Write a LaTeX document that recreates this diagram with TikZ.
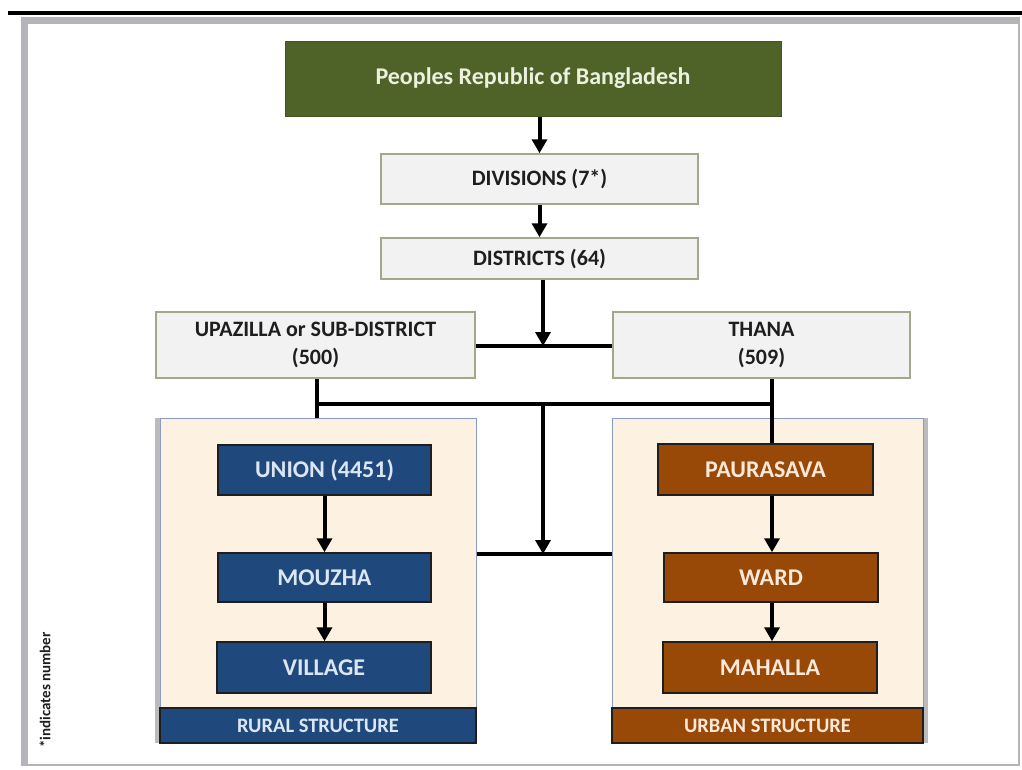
\documentclass[tikz,border=0pt]{standalone}
\usepackage{fontspec}
\setmainfont{Carlito}
\usetikzlibrary{arrows.meta,positioning,calc,shadows}
\definecolor{AdmGreen}{HTML}{4F6228}
\definecolor{AdmGreenText}{HTML}{EBF1DE}
\definecolor{AdmGrayFill}{HTML}{F2F2F2}
\definecolor{AdmGrayEdge}{HTML}{A4A78C}
\definecolor{AdmBlue}{HTML}{1F497D}
\definecolor{AdmBlueText}{HTML}{DCE6F2}
\definecolor{AdmBrown}{HTML}{984807}
\definecolor{AdmBrownText}{HTML}{FDE9D9}
\definecolor{AdmBeige}{HTML}{FDF2E1}
\definecolor{AdmPanelEdge}{HTML}{8C9AC8}
\definecolor{AdmFrame}{HTML}{B4B5BA}
\definecolor{AdmShade}{HTML}{8E8F94}
\definecolor{AdmInk}{HTML}{1E1E1E}
\tikzset{
  adm/top/.style={
    draw=AdmGreen!85!black,
    line width=1pt,
    fill=AdmGreen,
    text=AdmGreenText,
    inner sep=0pt,
    font=\fontsize{24}{28}\selectfont\bfseries
  },
  adm/gray/.style={
    draw=AdmGrayEdge,
    line width=1.5pt,
    fill=AdmGrayFill,
    text=AdmInk,
    align=center,
    inner sep=0pt,
    font=\fontsize{22}{28}\selectfont\bfseries
  },
  adm/blue/.style={
    draw=AdmInk,
    line width=1.5pt,
    fill=AdmBlue,
    text=AdmBlueText,
    inner sep=0pt,
    font=\fontsize{24}{28}\selectfont\bfseries
  },
  adm/brown/.style={
    draw=AdmInk,
    line width=1.5pt,
    fill=AdmBrown,
    text=AdmBrownText,
    inner sep=0pt,
    font=\fontsize{24}{28}\selectfont\bfseries
  },
  adm/panel/.style={
    draw=AdmPanelEdge,
    line width=1pt,
    fill=AdmBeige,
    inner sep=0pt
  },
  adm/bar/.style={
    draw=AdmInk,
    line width=1.5pt,
    inner sep=0pt,
    font=\fontsize{20.5}{24}\selectfont\bfseries
  },
  adm/arrow/.style={-{Triangle[length=14pt,width=15pt]}, line width=4pt, draw=black},
  adm/line/.style={line width=4pt, draw=black},
  adm/note/.style={font=\fontsize{15}{18}\selectfont\bfseries, text=AdmInk, inner sep=0pt}
}
\begin{document}
\begin{tikzpicture}[x=1pt,y=-1pt]
  \useasboundingbox (0,0) rectangle (1022,769);
  % frame and rule
  \fill[white] (0,0) rectangle (1022,769);
  \fill[black] (8,11) rectangle (1022,15);
  \fill[AdmFrame] (21,17) rectangle (1020,766);
  \fill[white] (28,24) rectangle (1018,764);

  \node[adm/top, minimum width=496pt, minimum height=75pt] (top) at (533,78.5) {Peoples Republic of Bangladesh};
  \node[adm/gray, minimum width=317pt, minimum height=50pt] (div) at (539.5,179) {DIVISIONS (7*)};
  \node[adm/gray, minimum width=317pt, minimum height=41pt] (dist) at (539.5,258.5) {DISTRICTS (64)};
  \node[adm/gray, minimum width=319pt, minimum height=66pt] (upz) at (315.5,345) {UPAZILLA or SUB-DISTRICT\\(500)};
  \node[adm/gray, minimum width=297pt, minimum height=66pt] (thana) at (761.5,345) {THANA\\(509)};

  % rural and urban panels
  \node[adm/panel, minimum width=316pt, minimum height=325pt,
    drop shadow={shadow xshift=-5pt, shadow yshift=0pt, fill=AdmShade, opacity=0.6}] (rural) at (318,580.5) {};
  \node[adm/panel, minimum width=311pt, minimum height=325pt,
    drop shadow={shadow xshift=5pt, shadow yshift=0pt, fill=AdmShade, opacity=0.6}] (urban) at (767.5,580.5) {};
  \node[adm/bar, fill=AdmBlue, text=AdmBlueText, minimum width=316pt, minimum height=35pt] (ruralbar) at (318,725.5) {RURAL STRUCTURE};
  \node[adm/bar, fill=AdmBrown, text=AdmBrownText, minimum width=311pt, minimum height=35pt] (urbanbar) at (767.5,725.5) {URBAN STRUCTURE};

  \node[adm/blue, minimum width=213pt, minimum height=50pt] (union) at (324.5,470) {UNION (4451)};
  \node[adm/blue, minimum width=213pt, minimum height=49pt] (mouzha) at (324.5,577.5) {MOUZHA};
  \node[adm/blue, minimum width=214pt, minimum height=51pt] (village) at (324,667.5) {VILLAGE};
  \node[adm/brown, minimum width=215pt, minimum height=51pt] (paura) at (765.5,469.5) {PAURASAVA};
  \node[adm/brown, minimum width=214pt, minimum height=49pt] (ward) at (771,577.5) {WARD};
  \node[adm/brown, minimum width=214pt, minimum height=51pt] (mahalla) at (770,667.5) {MAHALLA};

  \node[adm/note, rotate=90] (note) at (45,690) {*indicates number};

  % connectors
  \draw[adm/arrow] (div.north |- top.south) -- (div.north);
  \draw[adm/arrow] (div) -- (dist);
  \coordinate (hub) at (543,346);
  \draw[adm/line] (upz.east |- hub) -- (thana.west |- hub);
  \draw[adm/arrow] (hub |- dist.south) -- (hub);
  \coordinate (busL) at (317,404);
  \coordinate (busR) at (772,404);
  \coordinate (busM) at (hub |- busL);
  \coordinate (link) at (hub |- 0,554);
  \draw[adm/line] (busL |- upz.south) -- (busL |- rural.north);
  \draw[adm/line] (busR |- thana.south) -- (busR |- paura.north);
  \draw[adm/line] (busL) -- (busR);
  \draw[adm/line] (rural.east |- link) -- (urban.west |- link);
  \draw[adm/arrow] (busM) -- (link);
  \draw[adm/arrow] (union.south) -- (mouzha.north);
  \draw[adm/arrow] (mouzha.south) -- (mouzha.south |- village.north);
  \draw[adm/arrow] (busR |- paura.south) -- (busR |- ward.north);
  \draw[adm/arrow] (busR |- ward.south) -- (busR |- mahalla.north);
\end{tikzpicture}
\end{document}
